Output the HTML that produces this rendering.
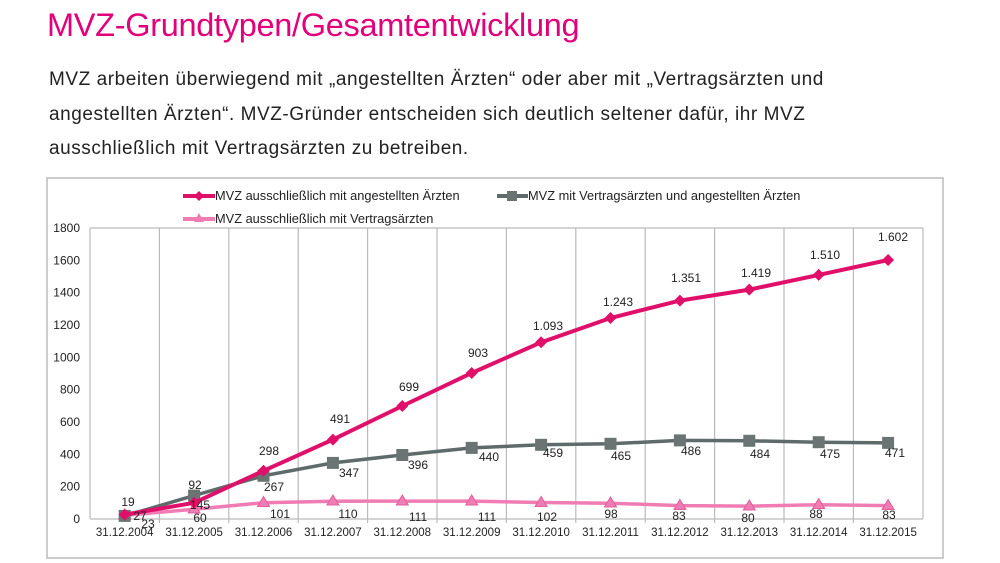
<!DOCTYPE html>
<html><head><meta charset="utf-8"><style>
body{margin:0;width:1000px;height:563px;background:#fff;overflow:hidden;font-family:"Liberation Sans",sans-serif}
h1{position:absolute;left:47px;top:7px;margin:0;font-weight:normal;font-size:32.5px;color:#e2007a;letter-spacing:-0.3px}
p{position:absolute;left:49px;top:63px;margin:0;font-size:19px;letter-spacing:0.55px;line-height:34.5px;color:#222;width:940px}
svg{position:absolute;left:0;top:0}
</style></head><body>
<h1>MVZ-Grundtypen/Gesamtentwicklung</h1>
<p>MVZ arbeiten überwiegend mit „angestellten Ärzten“ oder aber mit „Vertragsärzten und<br>angestellten Ärzten“. MVZ-Gründer entscheiden sich deutlich seltener dafür, ihr MVZ<br>ausschließlich mit Vertragsärzten zu betreiben.</p>
<svg width="1000" height="563" font-family="Liberation Sans, sans-serif">
<rect x="47" y="178" width="896" height="380" fill="none" stroke="#bbb" stroke-width="1.5"/>
<g stroke="#bbb" stroke-width="1.2">
<line x1="90" y1="228" x2="923" y2="228"/>
<line x1="923" y1="228" x2="923" y2="519"/>
<line x1="90" y1="228" x2="90" y2="519"/>
<line x1="90" y1="519" x2="923" y2="519"/>
<line x1="159.4" y1="228" x2="159.4" y2="523"/><line x1="228.8" y1="228" x2="228.8" y2="523"/>
<line x1="298.2" y1="228" x2="298.2" y2="523"/><line x1="367.6" y1="228" x2="367.6" y2="523"/>
<line x1="437" y1="228" x2="437" y2="523"/><line x1="506.4" y1="228" x2="506.4" y2="523"/>
<line x1="575.8" y1="228" x2="575.8" y2="523"/><line x1="645.2" y1="228" x2="645.2" y2="523"/>
<line x1="714.6" y1="228" x2="714.6" y2="523"/><line x1="784" y1="228" x2="784" y2="523"/>
<line x1="853.4" y1="228" x2="853.4" y2="523"/>
</g>
<g font-size="12" fill="#222" text-anchor="end">
<text x="80" y="523">0</text><text x="80" y="490.7">200</text><text x="80" y="458.4">400</text>
<text x="80" y="426">600</text><text x="80" y="393.7">800</text><text x="80" y="361.4">1000</text>
<text x="80" y="329">1200</text><text x="80" y="296.7">1400</text><text x="80" y="264.4">1600</text><text x="80" y="232">1800</text>
</g>
<g font-size="11.5" fill="#222" text-anchor="middle">
<text x="124.7" y="536">31.12.2004</text><text x="194.1" y="536">31.12.2005</text><text x="263.5" y="536">31.12.2006</text>
<text x="332.9" y="536">31.12.2007</text><text x="402.3" y="536">31.12.2008</text><text x="471.7" y="536">31.12.2009</text>
<text x="541.1" y="536">31.12.2010</text><text x="610.5" y="536">31.12.2011</text><text x="679.9" y="536">31.12.2012</text>
<text x="749.3" y="536">31.12.2013</text><text x="818.7" y="536">31.12.2014</text><text x="888.1" y="536">31.12.2015</text>
</g>
<polyline fill="none" stroke="#f07cb4" stroke-width="3.5" points="124.7,515.3 194.1,509.3 263.5,502.7 332.9,501.2 402.3,501.1 471.7,501.1 541.1,502.5 610.5,503.2 679.9,505.6 749.3,506.1 818.7,504.8 888.1,505.6"/>
<g fill="#f07cb4" stroke="#e0609c">
<path d="M124.7,509l6,10h-12z"/><path d="M194.1,503l6,10h-12z"/><path d="M263.5,496.5l6,10h-12z"/><path d="M332.9,495l6,10h-12z"/>
<path d="M402.3,495l6,10h-12z"/><path d="M471.7,495l6,10h-12z"/><path d="M541.1,496.5l6,10h-12z"/><path d="M610.5,497l6,10h-12z"/>
<path d="M679.9,499.5l6,10h-12z"/><path d="M749.3,500l6,10h-12z"/><path d="M818.7,498.5l6,10h-12z"/><path d="M888.1,499.5l6,10h-12z"/>
</g>
<polyline fill="none" stroke="#5f6b6a" stroke-width="3.5" points="124.7,515.9 194.1,495.6 263.5,475.8 332.9,462.9 402.3,455 471.7,447.9 541.1,444.8 610.5,443.8 679.9,440.4 749.3,440.8 818.7,442.2 888.1,442.9"/>
<g fill="#6a7473">
<rect x="118.7" y="509.9" width="12" height="12"/><rect x="188.1" y="489.6" width="12" height="12"/><rect x="257.5" y="469.8" width="12" height="12"/>
<rect x="326.9" y="456.9" width="12" height="12"/><rect x="396.3" y="449" width="12" height="12"/><rect x="465.7" y="441.9" width="12" height="12"/>
<rect x="535.1" y="438.8" width="12" height="12"/><rect x="604.5" y="437.8" width="12" height="12"/><rect x="673.9" y="434.4" width="12" height="12"/>
<rect x="743.3" y="434.8" width="12" height="12"/><rect x="812.7" y="436.2" width="12" height="12"/><rect x="882.1" y="436.9" width="12" height="12"/>
</g>
<polyline fill="none" stroke="#e0106a" stroke-width="4" points="124.7,514.6 194.1,502.8 263.5,470.8 332.9,439.6 402.3,406 471.7,373 541.1,342.3 610.5,318 679.9,300.6 749.3,289.6 818.7,274.9 888.1,260"/>
<g fill="#e0106a">
<path d="M124.7,508.6l6,6l-6,6l-6,-6z"/><path d="M194.1,496.8l6,6l-6,6l-6,-6z"/><path d="M263.5,464.8l6,6l-6,6l-6,-6z"/>
<path d="M332.9,433.6l6,6l-6,6l-6,-6z"/><path d="M402.3,400l6,6l-6,6l-6,-6z"/><path d="M471.7,367l6,6l-6,6l-6,-6z"/>
<path d="M541.1,336.3l6,6l-6,6l-6,-6z"/><path d="M610.5,312l6,6l-6,6l-6,-6z"/><path d="M679.9,294.6l6,6l-6,6l-6,-6z"/>
<path d="M749.3,283.6l6,6l-6,6l-6,-6z"/><path d="M818.7,268.9l6,6l-6,6l-6,-6z"/><path d="M888.1,254l6,6l-6,6l-6,-6z"/>
</g>
<g font-size="12" fill="#222" text-anchor="middle">
<text x="128" y="506">19</text><text x="195" y="489">92</text><text x="269" y="455">298</text><text x="340" y="423">491</text>
<text x="409" y="391">699</text><text x="478" y="357">903</text><text x="548" y="330">1.093</text><text x="618" y="306">1.243</text>
<text x="686" y="282">1.351</text><text x="756" y="277">1.419</text><text x="825" y="259">1.510</text><text x="893" y="241">1.602</text>
<text x="140" y="520">27</text><text x="148" y="528">23</text><text x="200" y="509">145</text><text x="274" y="491">267</text>
<text x="349" y="477">347</text><text x="418" y="469">396</text><text x="489" y="461">440</text><text x="553" y="457">459</text>
<text x="621" y="460">465</text><text x="691" y="455">486</text><text x="760" y="458">484</text><text x="830" y="458">475</text><text x="895" y="457">471</text>
<text x="200" y="522">60</text><text x="280" y="518">101</text><text x="348" y="518">110</text><text x="418" y="521">111</text>
<text x="487" y="521">111</text><text x="547" y="521">102</text><text x="611" y="518">98</text><text x="679" y="520">83</text>
<text x="748" y="522">80</text><text x="816" y="518">88</text><text x="889" y="519">83</text>
</g>
<line x1="183" y1="196" x2="215" y2="196" stroke="#e0106a" stroke-width="4"/><path d="M199,191l5,5l-5,5l-5,-5z" fill="#e0106a"/>
<text x="215" y="200" font-size="12.8" fill="#222">MVZ ausschließlich mit angestellten Ärzten</text>
<line x1="497" y1="196" x2="528" y2="196" stroke="#5f6b6a" stroke-width="4"/><rect x="507" y="191" width="10" height="10" fill="#6a7473"/>
<text x="528" y="200" font-size="12.8" fill="#222">MVZ mit Vertragsärzten und angestellten Ärzten</text>
<line x1="183" y1="219" x2="215" y2="219" stroke="#f07cb4" stroke-width="4"/><path d="M199,213l5,9h-10z" fill="#f07cb4"/>
<text x="215" y="223" font-size="12.8" fill="#222">MVZ ausschließlich mit Vertragsärzten</text>
</svg>
</body></html>
